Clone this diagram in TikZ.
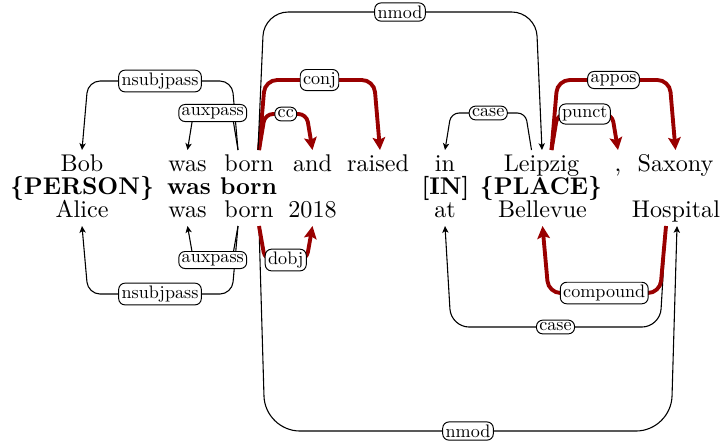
\documentclass[tikz,border=0pt]{standalone}
\usetikzlibrary{calc,arrows.meta}
\definecolor{depred}{RGB}{153,0,0}
\tikzset{
  word/.style={anchor=base,inner sep=0pt,font=\normalsize},
  lblbox/.style={draw=black,text=black,fill=white,rounded corners=2.6pt,inner xsep=1.6pt,inner ysep=1.5pt,font=\normalsize,scale=0.75,transform shape,line width=0.4pt,solid},
  blk/.style={line width=0.45pt,-{Stealth[length=2.8pt,width=2.6pt,inset=0.7pt]}},
  hred/.style={draw=depred,line width=1.6pt,-{Stealth[length=5.2pt,width=5.2pt,inset=1pt]}}
}
% #1 style, #2 start node, #3 start dx, #4 end node, #5 end dx,
% #6 level y, #7 label, #8 slant sign, #9 vertical offset from base
\newcommand\deparc[9]{%
  \path ($(#2.base)+(#3,#9)$) coordinate (s) ($(#4.base)+(#5,#9)$) coordinate (e) (0,#6) coordinate (lv);
  \draw[#1] (s) -- ($(s |- lv)+(#8*6,0)$) -- node[lblbox]{#7} ($(e |- lv)+(-#8*6,0)$) -- (e);}
\begin{document}
\begin{tikzpicture}[x=0.414pt,y=-0.414pt]
\useasboundingbox (0,0) rectangle (722,442);
% row 1
\node[word] (bob) at (82,171) {Bob};
\node[word] (was1) at (187.5,171) {was};
\node[word] (born1) at (249,171) {born};
\node[word] (and) at (312.5,171) {and};
\node[word] (raised) at (378,171) {raised};
\node[word] (in) at (445,171) {in};
\node[word] (leipzig) at (541.5,171) {Leipzig};
\node[word] (comma) at (618,171) {,};
\node[word] (saxony) at (675.5,171) {Saxony};
% row 2
\node[word] (person) at (82,194.5) {\textbf{\{PERSON\}}};
\node[word] (wasborn) at (222,194.5) {\textbf{was born}};
\node[word] (IN) at (445.5,194.5) {\textbf{[IN]}};
\node[word] (place) at (541,194.5) {\textbf{\{PLACE\}}};
% row 3
\node[word] (alice) at (82,217.5) {Alice};
\node[word] (was3) at (187.5,217.5) {was};
\node[word] (born3) at (249,217.5) {born};
\node[word] (y2018) at (312.5,217.5) {2018};
\node[word] (at) at (445,217.5) {at};
\node[word] (bellevue) at (542.5,217.5) {Bellevue};
\node[word] (hospital) at (676,217.5) {Hospital};
% top arcs
\deparc{blk,rounded corners=5pt}{born1}{-11}{bob}{0}{81}{nsubjpass}{-1}{-21}
\deparc{blk,rounded corners=3.3pt}{born1}{-11}{was1}{0}{113}{auxpass}{-1}{-21}
\deparc{blk,rounded corners=3.3pt}{leipzig}{-10}{in}{0}{113}{case}{-1}{-21}
\deparc{hred,rounded corners=5pt}{born1}{10}{raised}{2}{80}{conj}{1}{-21}
\deparc{hred,rounded corners=3.3pt}{born1}{10}{and}{0}{114}{cc}{1}{-21}
\deparc{hred,rounded corners=5pt}{leipzig}{10}{saxony}{0}{80}{appos}{1}{-21}
\deparc{hred,rounded corners=3.3pt}{leipzig}{10}{comma}{0}{114}{punct}{1}{-21}
\deparc{blk,rounded corners=10pt}{born1}{9}{leipzig}{0.5}{12}{nmod}{1}{-21}
% bottom arcs
\deparc{blk,rounded corners=5pt}{born3}{-11}{alice}{0}{294}{nsubjpass}{-1}{8.5}
\deparc{blk,rounded corners=3.3pt}{born3}{-11}{was3}{0}{260}{auxpass}{-1}{8.5}
\deparc{blk,rounded corners=14.5pt}{born3}{10}{hospital}{1}{431}{nmod}{1}{8.5}
\deparc{blk,rounded corners=7.5pt}{hospital}{-10}{at}{0}{327}{case}{-1}{8.5}
\deparc{hred,rounded corners=3.3pt}{born3}{10}{y2018}{0}{260}{dobj}{1}{8.5}
\deparc{hred,rounded corners=5pt}{hospital}{-10}{bellevue}{0}{293}{compound}{-1}{8.5}
\end{tikzpicture}
\end{document}
